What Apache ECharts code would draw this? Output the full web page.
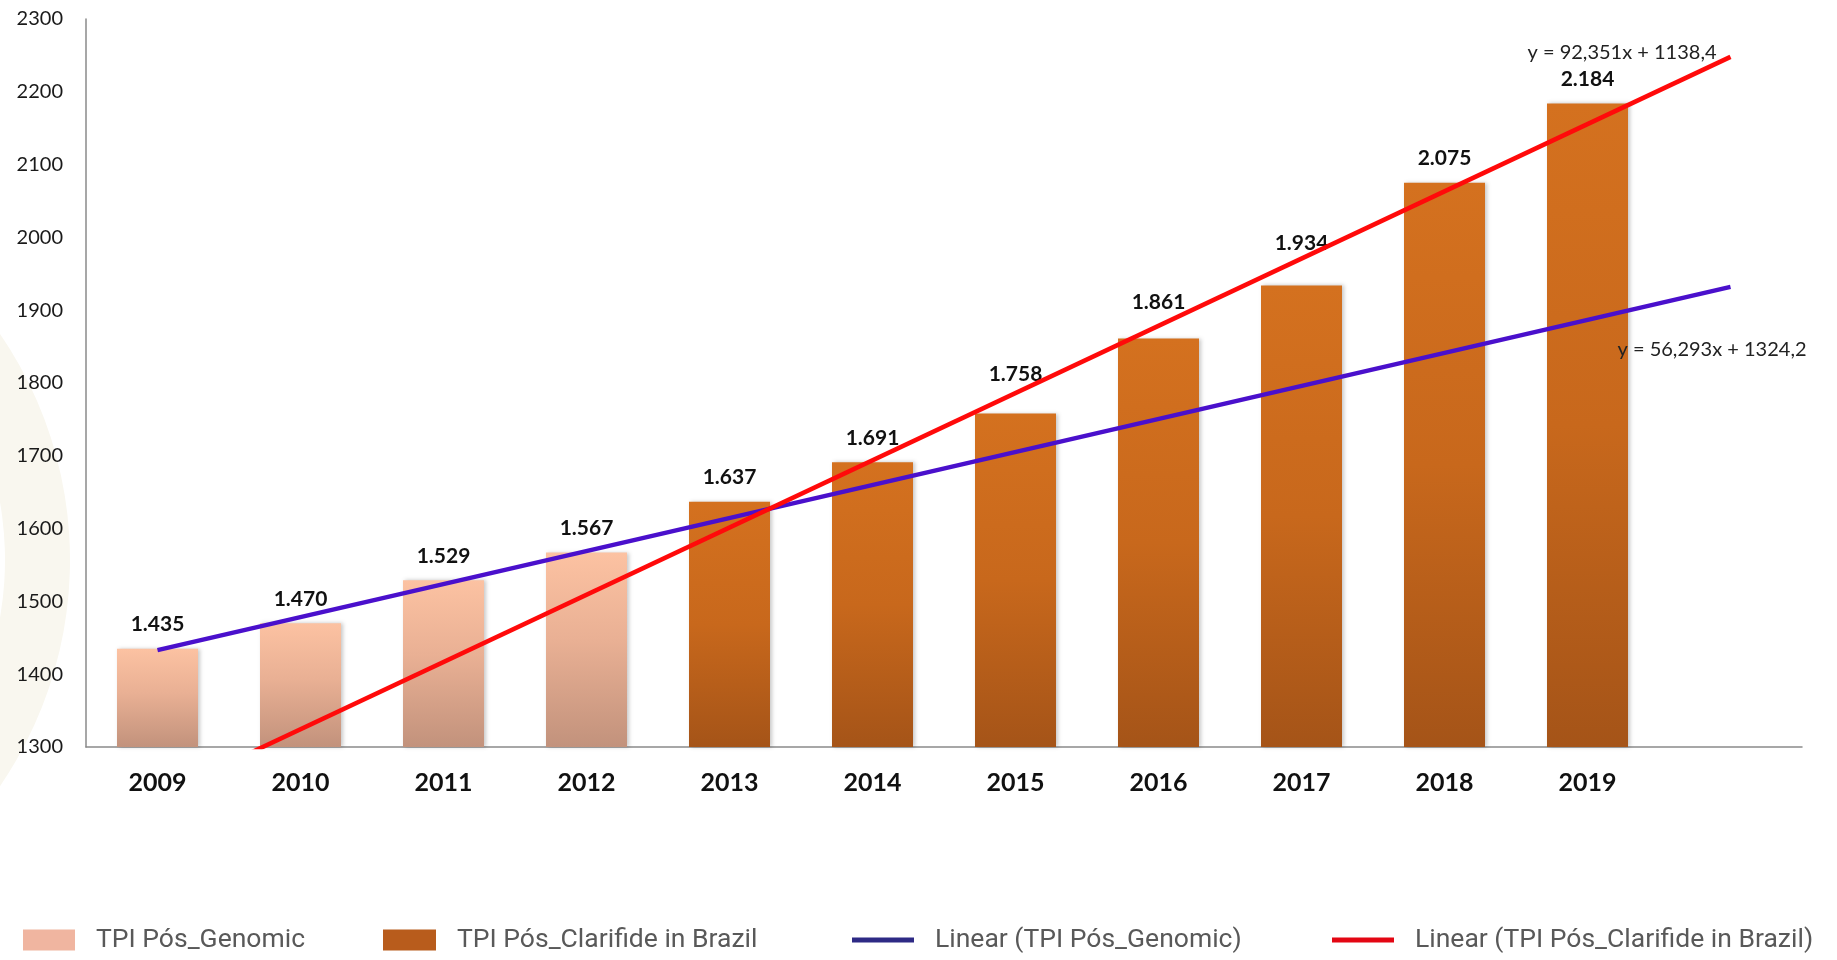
<!DOCTYPE html>
<html><head><meta charset="utf-8">
<script src="https://cdn.jsdelivr.net/npm/echarts@6/dist/echarts.min.js"></script>
<style>html,body{margin:0;padding:0;background:#fff}#c{width:1837px;height:960px}</style>
</head><body><div id="c"></div>
<script>
// ---- data ----
const categories = ['2009','2010','2011','2012','2013','2014','2015','2016','2017','2018','2019',''];
const genomicValues   = [1435,1470,1529,1567,null,null,null,null,null,null,null,null];
const clarifideValues = [null,null,null,null,1637,1691,1758,1861,1934,2075,2184,null];
// trend line end points (first and last category)
const genomicTrend   = [1433,null,null,null,null,null,null,null,null,null,null,1932];
const clarifideTrend = [1232,null,null,null,null,null,null,null,null,null,null,2248];
const yMin = 1300, yMax = 2300, yStep = 100;
const seriesNames = ['TPI Pós_Genomic','TPI Pós_Clarifide in Brazil','Linear (TPI Pós_Genomic)','Linear (TPI Pós_Clarifide in Brazil)'];
const equations = ['y = 92,351x + 1138,4','y = 56,293x + 1324,2'];
// labels lifted off the trend line in the original (style only)
const labelLift = {'2015': 15, '2016': 12, '2017': 18};

const fmt = v => String(v).replace(/(\d)(?=(\d{3})+$)/, '$1.');
const legendText = {fontFamily: 'Roboto', fontSize: 26.5, color: '#595959', lineHeight: 30, padding: [0,0,0,16]};
const chart = echarts.init(document.getElementById('c'));
const barLabel = {show: true, position: 'top', distance: 14, formatter: p => fmt(p.value),
  fontFamily: 'Lato', fontWeight: 'bold', fontSize: 21, color: '#111'};
const shadow = {shadowColor: 'rgba(0,0,0,0.22)', shadowBlur: 4, shadowOffsetX: 2};
const withLift = arr => arr.map((v, i) => {
  const lift = labelLift[categories[i]];
  return (v != null && lift) ? {value: v, label: {offset: [0, -lift]}} : v;
});
function mkLegend(name, color, left, w, h) {
  return {data: [{name: name, itemStyle: {color: color}}], left: left, top: 925, padding: 0,
    itemWidth: w, itemHeight: h, icon: 'rect', selectedMode: false, textStyle: legendText};
}
chart.setOption({
  animation: false,
  backgroundColor: '#fff',
  textStyle: {fontFamily: 'Lato'},
  grid: {left: 86, right: 35, top: 19, bottom: 213, containLabel: false},
  graphic: [
    {type: 'sector', z: -10, shape: {cx: -330, cy: 560, r: 400, r0: 335, startAngle: -Math.PI/3, endAngle: Math.PI/3},
      style: {fill: '#f9f7ef'}},
    {type: 'text', z: 100, x: 1622, y: 53, style: {text: equations[0], align: 'center', verticalAlign: 'middle',
      font: '20px Lato', fill: '#222'}},
    {type: 'text', z: 100, x: 1712, y: 350, style: {text: equations[1], align: 'center', verticalAlign: 'middle',
      font: '20px Lato', fill: '#222'}}
  ],
  legend: [
    mkLegend(seriesNames[0], '#F0B5A0', 23, 52, 21),
    mkLegend(seriesNames[1], '#B85C1C', 383, 53, 21),
    mkLegend(seriesNames[2], '#2E2A85', 852, 62, 5),
    mkLegend(seriesNames[3], '#E30613', 1332, 62, 5)
  ],
  xAxis: {type: 'category', data: categories, boundaryGap: true,
    axisLine: {lineStyle: {color: '#8a8a8a', width: 1.5}}, axisTick: {show: false},
    axisLabel: {fontFamily: 'Lato', fontWeight: 'bold', fontSize: 25, color: '#111', margin: 23, lineHeight: 25}},
  yAxis: {type: 'value', min: yMin, max: yMax, interval: yStep,
    axisLine: {show: true, lineStyle: {color: '#8a8a8a', width: 1.5}}, axisTick: {show: false},
    splitLine: {show: false},
    axisLabel: {fontFamily: 'Lato', fontSize: 20, color: '#1a1a1a', margin: 23, formatter: v => String(v)}},
  series: [
    {name: seriesNames[0], type: 'bar', data: withLift(genomicValues), barWidth: 81, barGap: '-100%',
      itemStyle: Object.assign({color: new echarts.graphic.LinearGradient(0,0,0,1,[
        {offset: 0, color: '#FCC2A2'}, {offset: 0.45, color: '#E9B094'}, {offset: 1, color: '#C2927C'}])}, shadow),
      label: barLabel},
    {name: seriesNames[1], type: 'bar', data: withLift(clarifideValues), barWidth: 81, barGap: '-100%',
      itemStyle: Object.assign({color: new echarts.graphic.LinearGradient(0,0,0,1,[
        {offset: 0, color: '#D4711F'}, {offset: 0.5, color: '#C8681C'}, {offset: 1, color: '#A55418'}])}, shadow),
      label: barLabel},
    {name: seriesNames[2], type: 'line', data: genomicTrend, connectNulls: true, symbol: 'none', silent: true,
      clip: true, z: 5, lineStyle: {color: '#4A10CC', width: 4.5}, itemStyle: {color: '#2E2A85'}},
    {name: seriesNames[3], type: 'line', data: clarifideTrend, connectNulls: true, symbol: 'none', silent: true,
      clip: true, z: 5, lineStyle: {color: '#FF0a0a', width: 4.5}, itemStyle: {color: '#E30613'}}
  ]
});
</script></body></html>
